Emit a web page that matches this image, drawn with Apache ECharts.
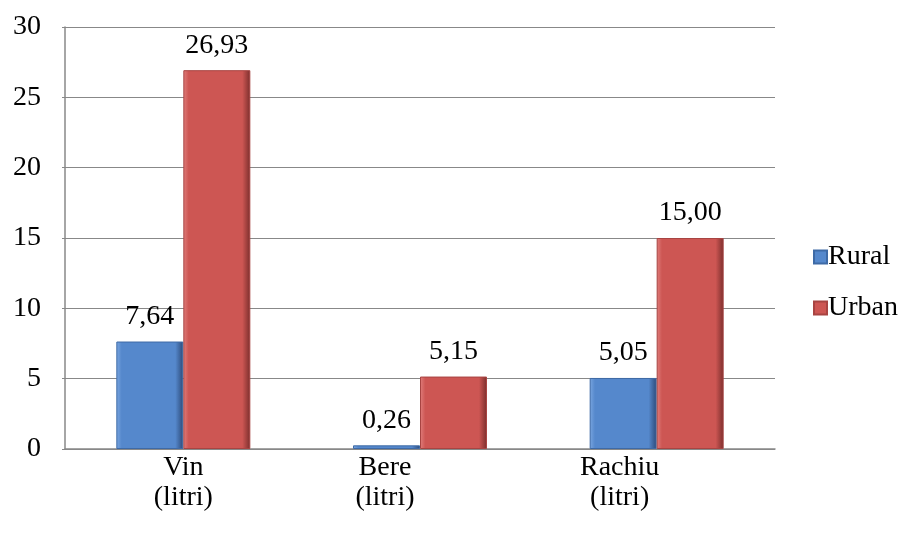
<!DOCTYPE html>
<html>
<head>
<meta charset="utf-8">
<script src="https://cdn.jsdelivr.net/npm/echarts@6/dist/echarts.min.js"></script>
<style>
html,body{margin:0;padding:0;background:#fff;}
#chart{width:920px;height:540px;}
</style>
</head>
<body>
<div id="chart"></div>
<script>
var categories = ['Vin', 'Bere', 'Rachiu'];
var rural = [7.64, 0.26, 5.05];
var urban = [26.93, 5.15, 15.00];
var seriesNames = ['Rural', 'Urban'];
// label shift to the left (Excel puts them off-centre)
var labelShift = [0, 70, 74];

var chart = echarts.init(document.getElementById('chart'));
var font = '"Liberation Serif", "Times New Roman", serif';
var fs = 28;

function bevel(light, mid, dark) {
    return new echarts.graphic.LinearGradient(0, 0, 1, 0, [
        {offset: 0, color: light},
        {offset: 0.08, color: mid},
        {offset: 0.88, color: mid},
        {offset: 1, color: dark}
    ]);
}

function fmt(v) {
    return v.toFixed(2).replace('.', ',');
}

var rich = {};
categories.forEach(function (c, i) {
    rich['c' + i] = {
        fontFamily: font, fontSize: fs, color: '#000', lineHeight: 30,
        padding: [0, labelShift[i], 0, 0]
    };
});

option = {
    animation: false,
    grid: {left: 65, right: 145, top: 27, bottom: 91},
    legend: {
        orient: 'vertical',
        left: 808,
        top: 238,
        itemWidth: 13,
        itemHeight: 13,
        itemGap: 23,
        icon: 'rect',
        textStyle: {fontFamily: font, fontSize: fs, color: '#000', padding: [0, 0, 0, -4]},
        data: seriesNames
    },
    xAxis: {
        type: 'category',
        data: categories,
        axisLine: {lineStyle: {color: '#888', width: 1.5}},
        axisTick: {show: false},
        axisLabel: {
            margin: 4,
            formatter: function (v, i) {
                return '{c' + i + '|' + v + '}\n{c' + i + '|(litri)}';
            },
            rich: rich
        }
    },
    yAxis: {
        type: 'value',
        min: 0,
        max: 30,
        interval: 5,
        axisLine: {show: true, lineStyle: {color: '#888', width: 1.5}},
        axisTick: {show: true, length: 3, lineStyle: {color: '#888'}},
        axisLabel: {fontFamily: font, fontSize: fs, color: '#000', margin: 24},
        splitLine: {lineStyle: {color: '#888', width: 1.2}}
    },
    series: [
        {
            name: seriesNames[0],
            type: 'bar',
            data: rural,
            barWidth: 67,
            barGap: '0%',
            itemStyle: {
                color: bevel('#7aa6e0', '#5588cc', '#2c4a78'),
                borderColor: '#3e6aa6',
                borderWidth: 1
            },
            label: {
                show: true, position: 'top', distance: 11,
                fontFamily: font, fontSize: fs, color: '#000',
                formatter: function (p) { return fmt(p.value); }
            }
        },
        {
            name: seriesNames[1],
            type: 'bar',
            data: urban,
            barWidth: 67,
            itemStyle: {
                color: bevel('#e07e7c', '#cd5653', '#7a2e2c'),
                borderColor: '#a84442',
                borderWidth: 1
            },
            label: {
                show: true, position: 'top', distance: 11,
                fontFamily: font, fontSize: fs, color: '#000',
                formatter: function (p) { return fmt(p.value); }
            }
        }
    ]
};
chart.setOption(option);
</script>
</body>
</html>
